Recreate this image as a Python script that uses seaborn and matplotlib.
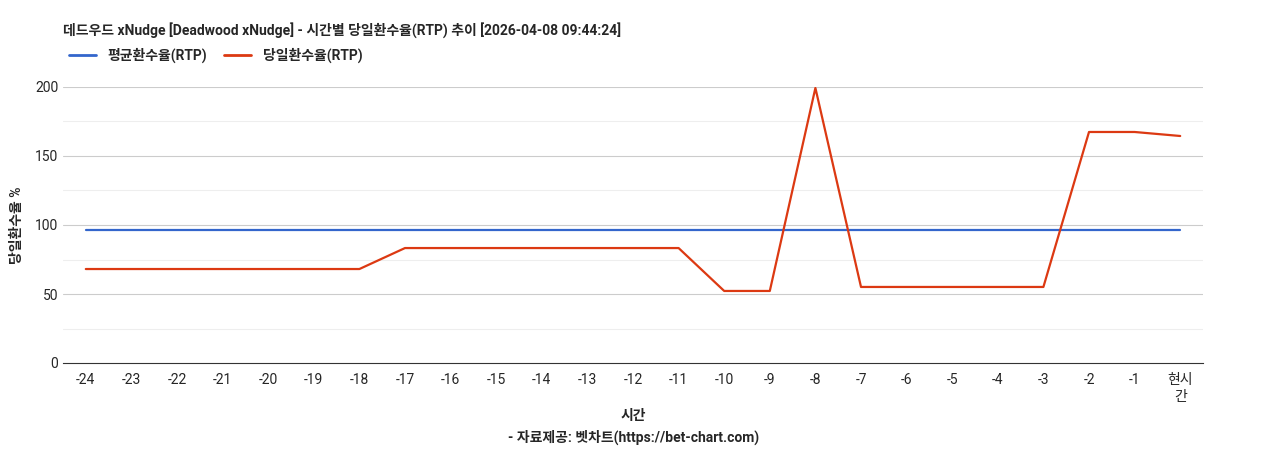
import numpy as np
import pandas as pd
import matplotlib
matplotlib.use("Agg")
import matplotlib.pyplot as plt
from matplotlib.lines import Line2D
import seaborn as sns

hours = [str(h) for h in range(-24, 0)] + ["현시\n간"]
avg_rtp = [96.4] * 25
day_rtp = [68.1] * 7 + [83.3] * 7 + [52.2, 52.2, 199.3] + [55.1] * 5 + [167.4, 167.4, 164.5]

sns.set_style("white")
plt.rcParams['font.family'] = ['Roboto', 'Noto Sans CJK KR', 'DejaVu Sans']

df = pd.DataFrame({"x": np.arange(len(hours)), "평균환수율(RTP)": avg_rtp, "당일환수율(RTP)": day_rtp})
long = df.melt(id_vars="x", var_name="series", value_name="rtp")

fig = plt.figure(figsize=(12.68, 4.5), dpi=100)
ax = fig.add_axes([63/1268, 1 - 363/450, 1140/1268, 276/450])

for y in range(25, 200, 50):
    ax.axhline(y, color="#eeeeee", lw=0.8, zorder=0)
for y in range(50, 201, 50):
    ax.axhline(y, color="#cccccc", lw=0.8, zorder=0)

sns.lineplot(data=long, x="x", y="rtp", hue="series",
             palette={"평균환수율(RTP)": "#3366cc", "당일환수율(RTP)": "#dc3912"},
             ax=ax, lw=1.6, legend=False)

ax.set_xlim(-0.5, len(hours) - 0.5)
ax.set_ylim(0, 200)
ax.set_yticks([0, 50, 100, 150, 200])
ax.set_xticks(df["x"])
ax.set_xticklabels(hours, fontsize=10)
ax.tick_params(axis="y", labelsize=10, length=0)
ax.tick_params(axis="x", length=4, color="#333333")
for s in ["top", "right", "left"]:
    ax.spines[s].set_visible(False)
ax.spines["bottom"].set_color("#333333")
ax.set_xlabel("시간", fontsize=10, fontweight="bold")
ax.set_ylabel("당일환수율 %", fontsize=10, fontweight="bold", labelpad=8)

fig.text(63/1268, 1 - 30/450, "데드우드 xNudge [Deadwood xNudge] - 시간별 당일환수율(RTP) 추이 [2026-04-08 09:44:24]",
         fontsize=10, fontweight="bold", va="center")
fig.text(0.5, 1 - 437/450, "- 자료제공: 벳차트(https://bet-chart.com)", fontsize=10,
         fontweight="bold", ha="center", va="center")

handles = [Line2D([], [], color="#3366cc", lw=2), Line2D([], [], color="#dc3912", lw=2)]
fig.legend(handles, ["평균환수율(RTP)", "당일환수율(RTP)"], loc="center left",
           bbox_to_anchor=(56/1268, 1 - 55/450), ncol=2, frameon=False,
           prop={"weight": "bold", "size": 10}, handlelength=2, columnspacing=1.2)

fig.savefig("out.png", dpi=100)
